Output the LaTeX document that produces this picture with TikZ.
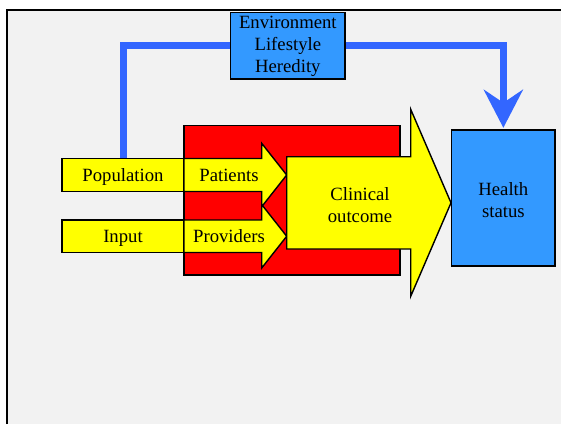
\documentclass[tikz,border=0pt]{standalone}
\usepackage{fontspec}
\setmainfont{Liberation Serif}
\usetikzlibrary{arrows.meta}
\definecolor{bggray}{HTML}{F2F2F2}
\definecolor{boxblue}{HTML}{3399FF}
\definecolor{lineblue}{HTML}{3366FF}
\definecolor{ylw}{HTML}{FFFF00}
\definecolor{rd}{HTML}{FF0000}
\begin{document}
\begin{tikzpicture}[x=1bp,y=-1bp,
  box/.style={draw=black,line width=1.4bp,inner sep=0pt,align=center,
    font=\fontsize{18.7bp}{22bp}\selectfont},
  oneline/.style={text height=13bp,text depth=0pt},
  lbl/.style={inner sep=0pt,align=center,font=\fontsize{18.7bp}{22bp}\selectfont},
  bigarrow/.style={draw=black,line width=1.4bp,fill=ylw,line join=miter},
  feedback/.style={draw=lineblue,line width=7bp},
]
\useasboundingbox (0,0) rectangle (561,424);
\fill[white] (0,0) rectangle (561,424);
\fill[bggray] (7,10) rectangle (561,424);
\draw[line width=2bp] (7,424) -- (7,10) -- (561,10);

% red block
\node[box,fill=rd,minimum width=216bp,minimum height=149.3bp] (red) at (292,200.35) {};
% left inputs
\node[box,oneline,fill=ylw,minimum width=122bp,minimum height=33bp] (pop) at (123,175) {Population};
\node[box,oneline,fill=ylw,minimum width=122bp,minimum height=32.5bp] (inp) at (123,236.25) {Input};
% patients arrow
\draw[bigarrow] (184,158.5) -- (261.7,158.5) -- (261.7,143.3) -- (286.7,175)
  -- (261.7,206.7) -- (261.7,191.5) -- (184,191.5) -- cycle;
\node[lbl,oneline] (pat) at (229,175) {Patients};
% providers arrow
\draw[bigarrow] (184,220) -- (261.7,220) -- (261.7,204.5) -- (286.7,236.25)
  -- (261.7,268) -- (261.7,252.5) -- (184,252.5) -- cycle;
\node[lbl,oneline] (prov) at (229,236.25) {Providers};
% clinical outcome arrow
\draw[bigarrow] (286.7,156.7) -- (410.7,156.7) -- (410.7,109.3) -- (451,202.8)
  -- (410.7,296.3) -- (410.7,249) -- (286.7,249) -- cycle;
\node[lbl] (clin) at (360,205) {Clinical\\outcome};
% health status
\node[box,fill=boxblue,minimum width=103.3bp,minimum height=136bp] (health) at (503.35,198) {};
\node[lbl] (hlbl) at (503.35,200) {Health\\status};
% environment
\node[box,fill=boxblue,minimum width=114.3bp,minimum height=66.3bp] (env) at (287.85,45.85) {};
\node[lbl] (elbl) at (287.85,46.5) {Environment\\Lifestyle\\Heredity};
% feedback connectors
\draw[feedback] (pop.north) |- (env.west);
\draw[feedback,-{Stealth[length=38bp,width=39bp,inset=13bp]}] (env.east) -| ([yshift=1.5bp]health.north);
\end{tikzpicture}
\end{document}
